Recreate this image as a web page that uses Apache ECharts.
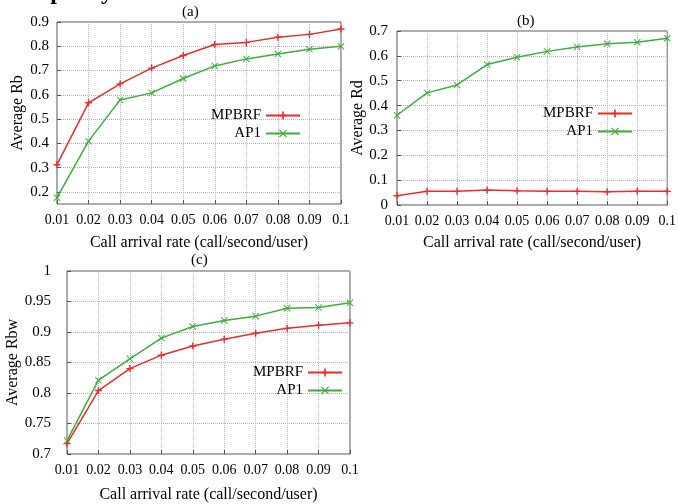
<!DOCTYPE html>
<html lang="en">
<head>
  <meta charset="UTF-8" />
  <title>Average Rb / Rd / Rbw</title>
  <script src="https://cdn.jsdelivr.net/npm/echarts@6.0.0/dist/echarts.min.js"></script>
</head>
<body style="margin:0; background:#fff;">
  <div id="main" style="width:679px; height:504px;"></div>
  <script type="text/javascript">
    // call arrival rate (call/second/user)
    const rates = [0.01, 0.02, 0.03, 0.04, 0.05, 0.06, 0.07, 0.08, 0.09, 0.1];

    // (a) Average Rb
    const rbMpbrf = [0.312, 0.567, 0.645, 0.71, 0.762, 0.807, 0.816, 0.837, 0.849, 0.871];
    const rbAp1   = [0.176, 0.409, 0.579, 0.608, 0.667, 0.719, 0.748, 0.768, 0.788, 0.8];

    // (b) Average Rd
    const rdMpbrf = [0.037, 0.055, 0.055, 0.06, 0.057, 0.055, 0.055, 0.053, 0.055, 0.055];
    const rdAp1   = [0.361, 0.451, 0.483, 0.565, 0.594, 0.618, 0.636, 0.649, 0.655, 0.671];

    // (c) Average Rbw
    const rbwMpbrf = [0.717, 0.804, 0.84, 0.862, 0.877, 0.888, 0.898, 0.906, 0.911, 0.915];
    const rbwAp1   = [0.722, 0.821, 0.856, 0.89, 0.909, 0.919, 0.926, 0.939, 0.94, 0.948];

    const seriesNames = ['MPBRF', 'AP1'];
    const panelTitles = ['(a)', '(b)', '(c)'];
    const yNames = ['Average Rb', 'Average Rd', 'Average Rbw'];
    const xName = 'Call arrival rate (call/second/user)';

    const red = '#ee2a2a';
    const green = '#3cae3c';
    const serif = 'Liberation Serif';
    const plusSym = 'path://M4,0H6V4H10V6H6V10H4V6H0V4H4Z';
    const crossSym = 'path://M1,0L5,4L9,0L10,1L6,5L10,9L9,10L5,6L1,10L0,9L4,5L0,1Z';

    function pairs(ys) {
      return rates.map((x, i) => [x, ys[i]]);
    }
    function fmt(v) {
      return String(+v.toFixed(2));
    }

    const grids = [
      { left: 57, top: 22, width: 284, height: 182 },
      { left: 397, top: 31, width: 274, height: 174 },
      { left: 67, top: 271, width: 283, height: 186 }
    ];
    grids.forEach(g => {
      g.show = true;
      g.borderColor = '#555';
      g.borderWidth = 1;
      g.backgroundColor = 'transparent';
    });

    const yRanges = [
      { min: 0.15, max: 0.9, splitNumber: 7 },
      { min: 0, max: 0.7, interval: 0.1 },
      { min: 0.7, max: 1, interval: 0.05 }
    ];
    const yGaps = [31, 31, 41];
    const yMargins = [8, 9, 16];
    const xGaps = [31, 30, 33];

    const xAxes = grids.map((g, i) => ({
      type: 'value',
      gridIndex: i,
      min: 0.01,
      max: 0.1,
      interval: 0.01,
      name: xName,
      nameLocation: 'middle',
      nameGap: xGaps[i],
      nameTextStyle: { fontFamily: serif, fontSize: 16, color: '#000' },
      axisLine: { show: false },
      axisTick: { show: true, inside: true, length: 4, lineStyle: { color: '#555' } },
      axisLabel: { formatter: fmt, fontFamily: serif, fontSize: 14, color: '#000', margin: 9 },
      splitLine: { show: true, lineStyle: { type: 'dotted', color: '#b4b4b4' } }
    }));

    const yAxes = grids.map((g, i) => Object.assign({
      type: 'value',
      gridIndex: i,
      name: yNames[i],
      nameLocation: 'middle',
      nameRotate: 90,
      nameGap: yGaps[i],
      nameTextStyle: { fontFamily: serif, fontSize: 16, color: '#000' },
      axisLine: { show: false },
      axisTick: { show: true, inside: true, length: 4, lineStyle: { color: '#555' } },
      axisLabel: { formatter: fmt, fontFamily: serif, fontSize: 15, color: '#000', margin: yMargins[i], showMinLabel: i !== 0 },
      splitLine: { show: true, lineStyle: { type: 'dotted', color: '#b4b4b4' } }
    }, yRanges[i]));

    const panelData = [
      [rbMpbrf, rbAp1],
      [rdMpbrf, rdAp1],
      [rbwMpbrf, rbwAp1]
    ];
    const series = [];
    panelData.forEach((pd, i) => {
      pd.forEach((ys, k) => {
        series.push({
          name: seriesNames[k],
          type: 'line',
          xAxisIndex: i,
          yAxisIndex: i,
          data: pairs(ys),
          symbol: k === 0 ? plusSym : crossSym,
          symbolSize: 7,
          showAllSymbol: true,
          lineStyle: { width: 1.5, color: k === 0 ? red : green },
          itemStyle: { color: k === 0 ? red : green },
          animation: false
        });
      });
    });

    // legend boxes: right edge of the line sample, top of first entry
    const legendPos = [
      { right: 378, top: 108 },
      { right: 46, top: 106 },
      { right: 336, top: 365 }
    ];
    const legends = legendPos.map(p => ({
      data: seriesNames,
      orient: 'vertical',
      align: 'right',
      right: p.right,
      top: p.top,
      padding: 0,
      itemGap: 3,
      itemWidth: 34,
      itemHeight: 10,
      selectedMode: false,
      textStyle: { fontFamily: serif, fontSize: 15, color: '#000' }
    }));

    const titlePos = [
      { left: 182, top: 5 },
      { left: 517, top: 14 },
      { left: 191, top: 253 }
    ];
    const titles = titlePos.map((p, i) => ({
      text: panelTitles[i],
      left: p.left,
      top: p.top,
      padding: 0,
      textStyle: { fontFamily: serif, fontSize: 15, fontWeight: 'normal', color: '#000' }
    }));

    const chart = echarts.init(document.getElementById('main'));
    chart.setOption({
      animation: false,
      backgroundColor: '#fff',
      title: titles,
      legend: legends,
      grid: grids,
      xAxis: xAxes,
      yAxis: yAxes,
      series: series,
      // cut-off heading above the figure: only its descenders show
      graphic: [{
        type: 'text',
        left: 21,
        top: -19,
        style: { text: 'Capacity', font: 'bold 24px "Liberation Serif"', fill: '#000' }
      }]
    });
  </script>
</body>
</html>
